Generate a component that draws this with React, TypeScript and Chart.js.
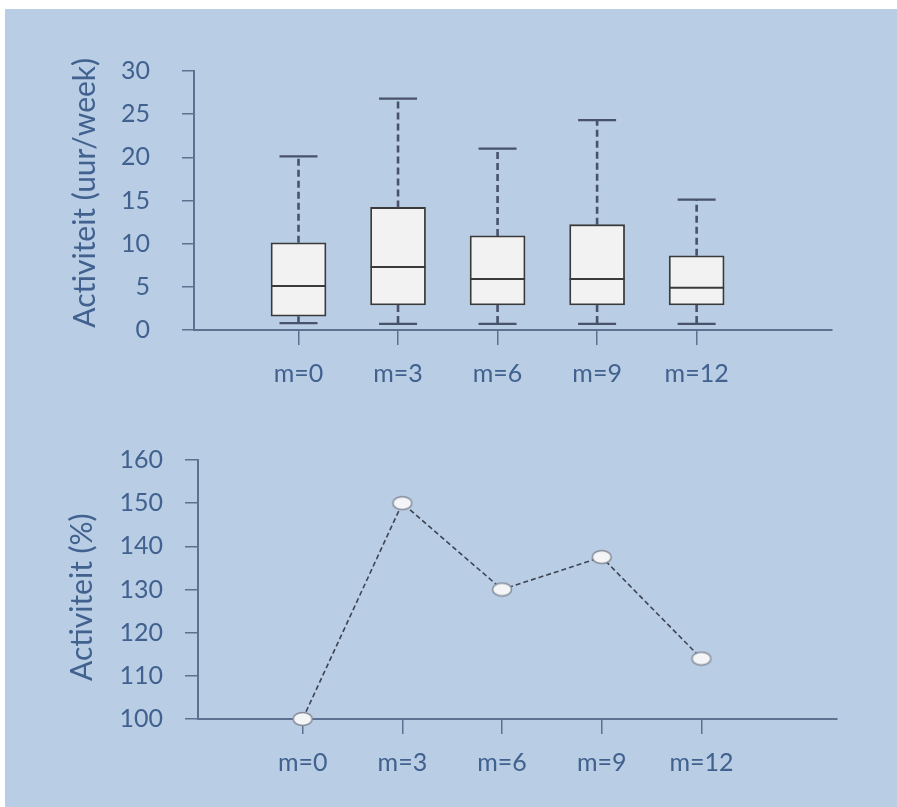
import React, { useEffect, useRef } from "react";
import { Chart, registerables } from "chart.js";

Chart.register(...registerables);

const categories = ["m=0", "m=3", "m=6", "m=9", "m=12"];
const boxMin = [0.8, 0.7, 0.7, 0.7, 0.7];
const boxQ1 = [1.6, 2.9, 2.9, 2.9, 2.9];
const boxMedian = [5.1, 7.3, 5.9, 5.9, 4.9];
const boxQ3 = [10.1, 14.2, 10.9, 12.2, 8.6];
const boxMax = [20.1, 26.8, 21.0, 24.3, 15.1];
const pctValues = [100, 150, 130, 137.5, 114];
const topTicks = [0, 5, 10, 15, 20, 25, 30];
const bottomTicks = [100, 110, 120, 130, 140, 150, 160];

const TEXT = "#41618f";
const AXIS = "#5d7190";
const FONT = "Lato, 'Open Sans', sans-serif";

function xScale(extra: any) {
  return {
    type: "linear" as const,
    min: -1.05,
    max: 5.36,
    offset: false,
    afterBuildTicks: (s: any) => {
      s.ticks = categories.map((_, i) => ({ value: i }));
    },
    afterFit: (s: any) => {
      s.height = 60;
    },
    ticks: {
      callback: (v: any) => categories[v] ?? "",
      color: TEXT,
      font: { family: FONT, size: 25 },
      padding: 14,
      maxRotation: 0,
      autoSkip: false,
    },
    grid: {
      drawOnChartArea: false,
      drawTicks: true,
      tickLength: 15,
      color: AXIS,
      lineWidth: 1.5,
      offset: false,
    },
    border: { display: true, color: AXIS, width: 2 },
    ...extra,
  };
}

function yScale(min: number, max: number, step: number, ticksArr: number[], title: string, titleSize: number, width: number, labelPad: number, titlePad: number, tickLen: number) {
  return {
    type: "linear" as const,
    min,
    max,
    afterBuildTicks: (s: any) => {
      s.ticks = ticksArr.map((v) => ({ value: v }));
    },
    afterFit: (s: any) => {
      s.width = width;
    },
    ticks: {
      stepSize: step,
      color: TEXT,
      font: { family: FONT, size: 25 },
      padding: labelPad,
    },
    title: {
      display: true,
      text: title,
      color: TEXT,
      font: { family: FONT, size: titleSize },
      padding: { top: titlePad, bottom: 0 },
    },
    grid: {
      drawOnChartArea: false,
      drawTicks: true,
      tickLength: tickLen,
      color: AXIS,
      lineWidth: 1.5,
    },
    border: { display: true, color: AXIS, width: 2 },
  };
}

const boxPlugin = {
  id: "boxWhiskers",
  afterDatasetsDraw(chart: any) {
    const { ctx } = chart;
    const xs = chart.scales.x;
    const ys = chart.scales.y;
    const meta = chart.getDatasetMeta(0);
    ctx.save();
    categories.forEach((_, i) => {
      const cx = xs.getPixelForValue(i);
      const el = meta.data[i];
      const w = el ? el.width : 54;
      const yMin = ys.getPixelForValue(boxMin[i]);
      const yQ1 = ys.getPixelForValue(boxQ1[i]);
      const yMed = ys.getPixelForValue(boxMedian[i]);
      const yQ3 = ys.getPixelForValue(boxQ3[i]);
      const yMax = ys.getPixelForValue(boxMax[i]);
      ctx.strokeStyle = "#485269";
      ctx.lineWidth = 2.6;
      ctx.setLineDash([7, 4]);
      ctx.beginPath();
      ctx.moveTo(cx, yQ3);
      ctx.lineTo(cx, yMax);
      ctx.moveTo(cx, yQ1);
      ctx.lineTo(cx, yMin);
      ctx.stroke();
      ctx.setLineDash([]);
      ctx.lineWidth = 2.2;
      ctx.beginPath();
      ctx.moveTo(cx - 19, yMax);
      ctx.lineTo(cx + 19, yMax);
      ctx.moveTo(cx - 19, yMin);
      ctx.lineTo(cx + 19, yMin);
      ctx.stroke();
      ctx.strokeStyle = "#3a3a3a";
      ctx.lineWidth = 2;
      ctx.beginPath();
      ctx.moveTo(cx - w / 2, yMed);
      ctx.lineTo(cx + w / 2, yMed);
      ctx.stroke();
    });
    ctx.restore();
  },
};

function makeEllipse(): HTMLCanvasElement {
  const c = document.createElement("canvas");
  c.width = 22;
  c.height = 16;
  const g = c.getContext("2d")!;
  g.beginPath();
  g.ellipse(11, 8, 9.5, 6.5, 0, 0, Math.PI * 2);
  g.fillStyle = "#f4f5f7";
  g.fill();
  g.lineWidth = 1.5;
  g.strokeStyle = "#858c98";
  g.stroke();
  return c;
}

export default function App() {
  const topRef = useRef<HTMLCanvasElement>(null);
  const botRef = useRef<HTMLCanvasElement>(null);

  useEffect(() => {
    const top = new Chart(topRef.current!, {
      type: "bar",
      data: {
        datasets: [
          {
            data: categories.map((_, i) => ({ x: i, y: [boxQ1[i], boxQ3[i]] })) as any,
            backgroundColor: "#f2f2f2",
            borderColor: "#3a3a3a",
            borderWidth: 1.8,
            borderSkipped: false,
            barThickness: 55,
          },
        ],
      },
      options: {
        animation: false,
        responsive: true,
        maintainAspectRatio: false,
        layout: { padding: { left: 0, right: 65, top: 62, bottom: 30 } },
        plugins: { legend: { display: false }, tooltip: { enabled: false } },
        scales: {
          x: xScale({}),
          y: yScale(0, 30, 5, topTicks, "  Activiteit (uur/week)", 30, 189, 32, 62, 12),
        } as any,
      },
      plugins: [boxPlugin],
    });

    const ell = makeEllipse();
    const bot = new Chart(botRef.current!, {
      type: "line",
      data: {
        datasets: [
          {
            data: categories.map((_, i) => ({ x: i, y: pctValues[i] })),
            borderColor: "#3d4552",
            borderWidth: 1.6,
            borderDash: [5, 3],
            pointStyle: ell as any,
            pointRadius: 8,
            fill: false,
            tension: 0,
            clip: false as any,
          },
        ],
      },
      options: {
        animation: false,
        responsive: true,
        maintainAspectRatio: false,
        layout: { padding: { left: 0, right: 60, top: 40, bottom: 28 } },
        plugins: { legend: { display: false }, tooltip: { enabled: false } },
        scales: {
          x: xScale({}),
          y: yScale(100, 160, 10, bottomTicks, "Activiteit (%)  ", 30, 193, 22, 59, 13),
        } as any,
      },
    });

    return () => {
      top.destroy();
      bot.destroy();
    };
  }, []);

  return (
    <div
      style={{
        position: "fixed",
        left: 5,
        top: 9,
        width: 1000,
        height: 900,
        background: "#b9cde5",
      }}
    >
      <div style={{ position: "absolute", left: 0, top: 0, width: 892, height: 411 }}>
        <canvas ref={topRef} />
      </div>
      <div style={{ position: "absolute", left: 0, top: 411, width: 892, height: 387 }}>
        <canvas ref={botRef} />
      </div>
    </div>
  );
}
